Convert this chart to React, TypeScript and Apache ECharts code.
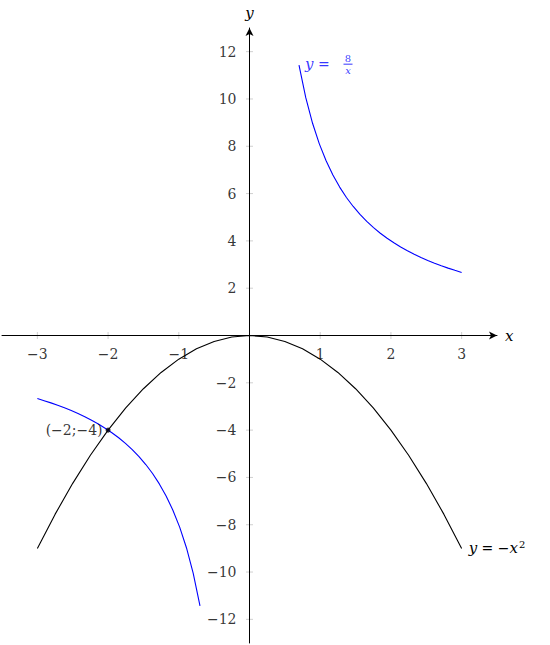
import React, { useEffect, useRef } from "react";
import * as echarts from "echarts";

// y = -x^2 sampled at 25 points on [-3, 3]
const parabolaX = [-3, -2.75, -2.5, -2.25, -2, -1.75, -1.5, -1.25, -1, -0.75, -0.5, -0.25, 0, 0.25, 0.5, 0.75, 1, 1.25, 1.5, 1.75, 2, 2.25, 2.5, 2.75, 3];
const parabolaY = [-9, -7.5625, -6.25, -5.0625, -4, -3.0625, -2.25, -1.5625, -1, -0.5625, -0.25, -0.0625, 0, -0.0625, -0.25, -0.5625, -1, -1.5625, -2.25, -3.0625, -4, -5.0625, -6.25, -7.5625, -9];

// y = 8/x right branch
const hypRightX = [0.7, 0.7958, 0.8917, 0.9875, 1.0833, 1.1792, 1.275, 1.3708, 1.4667, 1.5625, 1.6583, 1.7542, 1.85, 1.9458, 2.0417, 2.1375, 2.2333, 2.3292, 2.425, 2.5208, 2.6167, 2.7125, 2.8083, 2.9042, 3];
const hypRightY = [11.4286, 10.0524, 8.972, 8.1013, 7.3846, 6.7845, 6.2745, 5.8359, 5.4545, 5.12, 4.8241, 4.5606, 4.3243, 4.1113, 3.9184, 3.7427, 3.5821, 3.4347, 3.299, 3.1736, 3.0573, 2.9493, 2.8487, 2.7546, 2.6667];
// left branch
const hypLeftX = [-3, -2.9042, -2.8083, -2.7125, -2.6167, -2.5208, -2.425, -2.3292, -2.2333, -2.1375, -2.0417, -1.9458, -1.85, -1.7542, -1.6583, -1.5625, -1.4667, -1.3708, -1.275, -1.1792, -1.0833, -0.9875, -0.8917, -0.7958, -0.7];
const hypLeftY = [-2.6667, -2.7546, -2.8487, -2.9493, -3.0573, -3.1736, -3.299, -3.4347, -3.5821, -3.7427, -3.9184, -4.1113, -4.3243, -4.5606, -4.8241, -5.12, -5.4545, -5.8359, -6.2745, -6.7845, -7.3846, -8.1013, -8.972, -10.0524, -11.4286];

const xTicks = [-3, -2, -1, 0, 1, 2, 3];
const xTickLabels = [-3, -2, -1, 1, 2, 3];
const yTicks = [-12, -10, -8, -6, -4, -2, 0, 2, 4, 6, 8, 10, 12];
const yTickLabels = [-12, -10, -8, -6, -4, -2, 2, 4, 6, 8, 10, 12];

const intersection = [-2, -4];

const FONT = "DejaVu Serif, Liberation Serif, serif";
const fmt = (v: number) => (v < 0 ? "\u2212" + Math.abs(v) : String(v));

export default function App() {
  const ref = useRef<HTMLDivElement>(null);
  useEffect(() => {
    const chart = echarts.init(ref.current!, null, { renderer: "svg" });
    const zip = (xs: number[], ys: number[]) => xs.map((x, i) => [x, ys[i]]);
    const axisCommon = {
      type: "value",
      z: 10,
      nameLocation: "end",
      nameGap: 8,
      nameTextStyle: { fontFamily: FONT, fontStyle: "italic", fontSize: 15, color: "#000" },
      axisLine: { onZero: true, lineStyle: { color: "#000", width: 1 }, symbol: ["none", "arrow"], symbolSize: [6, 8] },
      axisTick: { show: false },
      splitLine: { show: false },
      axisLabel: { show: false },
    };
    chart.setOption({
      animation: false,
      grid: { left: 2, right: 53, top: 28, bottom: 2, containLabel: false, outerBoundsMode: "none" },
      xAxis: { ...axisCommon, min: -3.5, max: 3.5, name: "x" },
      yAxis: { ...axisCommon, min: -13, max: 13, name: "y" },
      series: [
        {
          type: "scatter",
          data: xTicks.map((x) => [x, 0]),
          symbol: "rect",
          symbolSize: [1, 7],
          itemStyle: { color: "#c4c4c4" },
          silent: true,
          z: 1,
        },
        {
          type: "scatter",
          data: yTicks.map((y) => [0, y]),
          symbol: "rect",
          symbolSize: [7, 1],
          itemStyle: { color: "#c4c4c4" },
          silent: true,
          z: 1,
        },
        {
          type: "scatter",
          data: xTickLabels.map((x) => [x, 0]),
          symbolSize: 0,
          silent: true,
          z: 1,
          label: {
            show: true,
            position: "bottom",
            distance: 11,
            fontFamily: FONT,
            fontSize: 14,
            color: "#000",
            formatter: (p: any) => fmt(p.value[0]),
          },
        },
        {
          type: "scatter",
          data: yTickLabels.map((y) => [0, y]),
          symbolSize: 0,
          silent: true,
          z: 1,
          label: {
            show: true,
            position: "left",
            distance: 13,
            fontFamily: FONT,
            fontSize: 14,
            color: "#000",
            formatter: (p: any) => fmt(p.value[1]),
          },
        },
        {
          type: "line",
          data: zip(parabolaX, parabolaY),
          showSymbol: false,
          lineStyle: { color: "#000", width: 1.1 },
          z: 3,
          endLabel: {
            show: true,
            distance: 7,
            fontFamily: FONT,
            fontSize: 14,
            color: "#000",
            formatter: "{i|y} = \u2212{i|x}{s|2}",
            rich: {
              i: { fontFamily: FONT, fontStyle: "italic", fontSize: 15, color: "#000" },
              s: { fontFamily: FONT, fontSize: 10, color: "#000", verticalAlign: "top", padding: [0, 0, 8, 1] },
            },
          },
        },
        {
          type: "line",
          data: zip(hypRightX, hypRightY),
          showSymbol: false,
          lineStyle: { color: "#0000ff", width: 1.1 },
          z: 3,
        },
        {
          type: "line",
          data: zip(hypLeftX, hypLeftY),
          showSymbol: false,
          lineStyle: { color: "#0000ff", width: 1.1 },
          z: 3,
        },
        {
          type: "scatter",
          data: [[hypRightX[0], hypRightY[0]]],
          symbolSize: 0,
          silent: true,
          z: 4,
          label: {
            show: true,
            position: "right",
            distance: 6,
            offset: [0, -1],
            color: "#0000ff",
            fontFamily: FONT,
            fontSize: 14,
            formatter: "{i|y} =",
            rich: { i: { fontFamily: FONT, fontStyle: "italic", fontSize: 15, color: "#0000ff" } },
          },
        },
        {
          type: "scatter",
          data: [[hypRightX[0], hypRightY[0]]],
          symbolSize: 0,
          silent: true,
          z: 4,
          label: {
            show: true,
            position: "right",
            distance: 49,
            offset: [0, -1],
            color: "#0000ff",
            fontFamily: FONT,
            align: "center",
            formatter: "{n|8}\n{b| }\n{d|x}",
            rich: {
              n: { fontFamily: FONT, fontSize: 10, lineHeight: 9, color: "#0000ff", align: "center" },
              b: { fontSize: 1, width: 9, height: 1, lineHeight: 3, backgroundColor: "#0000ff", align: "center" },
              d: { fontFamily: FONT, fontStyle: "italic", fontSize: 10, lineHeight: 9, color: "#0000ff", align: "center" },
            },
          },
        },
        {
          type: "scatter",
          data: [intersection],
          symbol: "circle",
          symbolSize: 5,
          itemStyle: { color: "#000" },
          z: 5,
          label: {
            show: true,
            position: "left",
            distance: 3,
            color: "#000",
            fontFamily: FONT,
            fontSize: 14,
            formatter: "(\u22122;\u22124)",
          },
        },
      ],
    });
    return () => chart.dispose();
  }, []);
  return (
    <div
      ref={ref}
      style={{ position: "absolute", left: 0, top: 0, width: 550, height: 645 }}
    />
  );
}
